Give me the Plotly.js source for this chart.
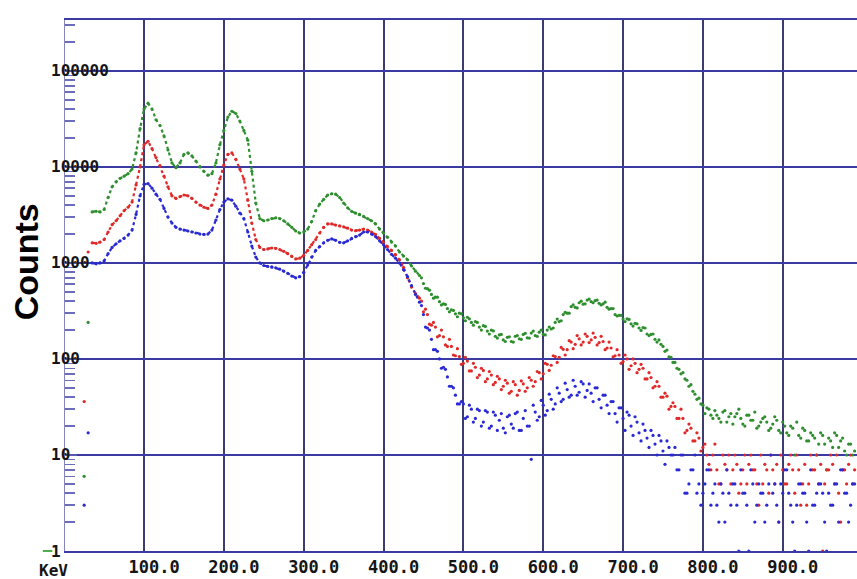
<!DOCTYPE html>
<html>
<head>
<meta charset="utf-8">
<script src="https://cdn.plot.ly/plotly-3.0.1.min.js"></script>
<style>html,body{margin:0;padding:0;background:#fff;}#chart{width:857px;height:579px;}</style>
</head>
<body>
<div id="chart"></div>
<script>
// Energy channels: first channel and step (keV)
const keVStart = 25;
const keVStep = 5;

const greenCounts = [
  6, 240, 3400, 3450, 3400, 3600, 4800, 6200, 7000, 7600,
  8000, 8500, 9500, 14000, 25000, 40000, 46000, 40000, 31000, 27000,
  21000, 15000, 11000, 9800, 11000, 13500, 14000, 13000, 11500, 10000,
  9000, 8200, 8500, 11000, 17000, 24000, 33000, 38000, 36000, 30000,
  24000, 19000, 9000, 4200, 2900, 2750, 2800, 2900, 2950, 2900,
  2750, 2550, 2350, 2150, 2050, 2100, 2250, 2700, 3500, 4100,
  4600, 5100, 5250, 5200, 4800, 4200, 3750, 3450, 3300, 3200,
  3050, 2900, 2750, 2550, 2250, 2050, 1850, 1650, 1500, 1300,
  1180, 1080, 930, 820, 740, 610, 540, 470, 440, 395,
  375, 335, 325, 295, 300, 268, 272, 240, 245, 215,
  222, 195, 200, 172, 178, 158, 168, 152, 172, 162,
  180, 166, 186, 175, 190, 180, 200, 205, 240, 245,
  290, 300, 350, 345, 385, 372, 410, 395, 405, 380,
  375, 345, 335, 290, 285, 260, 262, 232, 235, 210,
  212, 182, 180, 160, 158, 135, 124, 104, 92, 78,
  72, 60, 54, 43, 39, 33, 31, 26, 29, 24,
  28, 22, 27, 25, 30, 21, 26, 23, 28, 20,
  24, 22, 19, 25, 18, 22, 17, 20, 10, 16,
  19, 14, 17, 15, 13, 16, 7, 14, 17, 12,
  15, 10, 13, 11
];

const redCounts = [
  36, 1300, 1620, 1600, 1650, 1750, 2100, 2500, 2750, 3100,
  3500, 3800, 4300, 6500, 10000, 17000, 18500, 15500, 12500, 10300,
  8000, 6200, 5000, 4700, 4900, 5100, 5000, 4700, 4300, 4000,
  3800, 3700, 4000, 5200, 7500, 10500, 13500, 14000, 12000, 9500,
  7500, 4500, 2600, 1750, 1450, 1380, 1400, 1430, 1420, 1380,
  1320, 1250, 1170, 1100, 1120, 1200, 1350, 1550, 1750, 2050,
  2350, 2550, 2550, 2480, 2430, 2380, 2300, 2200, 2170, 2200,
  2250, 2200, 2100, 1980, 1800, 1620, 1480, 1350, 1220, 1080,
  900, 700, 560, 480, 430, 310, 290, 225, 215, 175,
  170, 135, 135, 108, 106, 90, 95, 75, 82, 68,
  76, 62, 68, 57, 62, 52, 56, 46, 54, 47,
  55, 50, 60, 58, 72, 70, 88, 86, 106, 104,
  126, 125, 150, 142, 162, 150, 172, 158, 168, 148,
  152, 130, 130, 108, 110, 94, 100, 85, 90, 78,
  80, 62, 64, 52, 52, 40, 41, 32, 32, 24,
  24, 18, 19, 14, 15, 12, 10, 7, 13, 5,
  10, 7, 5, 10, 4, 7, 5, 10, 7, 3,
  5, 7, 10, 5, 2, 7, 5, 10, 4, 7,
  5, 3, 10, 7, 5, 1, 7, 10, 5, 4,
  7, 5, 10, 7
];

const blueCounts = [
  3, 17, 1000, 980, 1000, 1050, 1250, 1450, 1580, 1700,
  1800, 1950, 2200, 3200, 5000, 6600, 6700, 6000, 5200, 4600,
  3700, 3000, 2600, 2350, 2250, 2200, 2150, 2100, 2050, 2000,
  1980, 2000, 2200, 2800, 3600, 4300, 4650, 4500, 3900, 3300,
  2900, 2100, 1500, 1150, 1000, 940, 920, 910, 890, 860,
  820, 780, 730, 700, 720, 800, 950, 1150, 1350, 1480,
  1620, 1720, 1780, 1720, 1640, 1620, 1700, 1800, 1880, 1950,
  2100, 2100, 2000, 1880, 1700, 1550, 1380, 1230, 1120, 1000,
  850, 720, 580, 470, 390, 290, 210, 160, 125, 100,
  82, 65, 52, 42, 34, 34, 25, 30, 24, 29,
  22, 28, 20, 26, 23, 19, 25, 21, 27, 18,
  24, 20, 9, 28, 25, 33, 29, 38, 34, 44,
  38, 48, 42, 52, 45, 55, 47, 44, 50, 38,
  42, 33, 36, 27, 31, 24, 28, 20, 25, 17,
  21, 15, 18, 13, 16, 11, 14, 10, 12, 7,
  10, 4, 7, 10, 5, 4, 7, 3, 5, 2,
  4, 7, 3, 5, 1, 4, 3, 7, 2, 5,
  4, 3, 10, 5, 2, 4, 7, 3, 1, 5,
  4, 2, 7, 3, 5, 4, 1, 3, 5, 2,
  7, 4, 3, 5
];

// Interleaved channels in the noisy middle region (447.5 ... 797.5 keV)
const midStart = 447.5;
const greenMid = [700, 545, 520, 430, 440, 365, 370, 310, 320, 275,
  295, 250, 262, 225, 240, 200, 218, 182, 196, 165,
  180, 152, 170, 150, 175, 160, 185, 165, 195, 172,
  200, 178, 215, 210, 260, 250, 305, 300, 365, 340,
  400, 375, 420, 385, 410, 365, 390, 330, 335, 280,
  285, 245, 258, 220, 232, 198, 210, 175, 182, 150,
  142, 120, 105, 92, 80, 70, 62, 52, 46, 38, 34];
const redMid = [400, 330, 230, 240, 170, 200, 140, 160, 110, 128,
  88, 104, 75, 90, 64, 80, 58, 74, 54, 66,
  48, 60, 44, 58, 42, 59, 46, 64, 52, 74,
  62, 90, 76, 108, 92, 132, 110, 155, 128, 175,
  140, 182, 148, 186, 140, 172, 125, 150, 105, 125,
  90, 110, 78, 100, 72, 88, 62, 72, 50, 58,
  40, 44, 30, 35, 24, 30, 17, 21, 14, 17, 11];
const blueMid = [360, 215, 200, 125, 120, 80, 78, 52, 50, 34,
  36, 24, 33, 22, 30, 20, 29, 19, 28, 18,
  27, 17, 26, 19, 28, 18, 29, 20, 33, 23,
  37, 26, 43, 30, 50, 36, 56, 40, 60, 42,
  58, 40, 55, 36, 50, 31, 42, 27, 36, 22,
  31, 18, 26, 16, 22, 14, 18, 12, 16, 10,
  14, 8, 12, 10, 7, 10, 4, 5, 7, 4, 3];

// Interleaved high-energy channels (802.5 ... 987.5 keV)
const tailStart = 802.5;
const greenTail = [27, 30, 24, 26, 22, 29, 25, 21, 27, 24, 20, 26, 23, 19, 22, 25, 18, 21, 23, 17,
  20, 16, 19, 22, 15, 18, 14, 16, 10, 17, 13, 15, 12, 16, 14, 11, 13, 10];
const redTail = [13, 8, 10, 7, 5, 8, 10, 7, 8, 5, 10, 8, 7, 5, 10, 8, 4, 7, 8, 10,
  5, 8, 7, 10, 3, 8, 5, 7, 10, 8, 5, 7, 8, 10, 2, 7, 8, 5];
const blueTail = [5, 7, 4, 3, 5, 2, 4, 5, 3, 7, 4, 1, 5, 3, 4, 2, 5, 4, 3, 5,
  7, 4, 2, 3, 5, 4, 1, 3, 4, 5, 2, 4, 3, 5, 7, 4, 2, 5];

const xTickVals = [100, 200, 300, 400, 500, 600, 700, 800, 900];
const xTickText = ["100.0", "200.0", "300.0", "400.0", "500.0", "600.0", "700.0", "800.0", "900.0"];
const yTickVals = [1, 10, 100, 1000, 10000, 100000];
const yTickText = ["1", "10", "100", "1000", "10000", "100000"];

const GREEN = "#2f8f2f", RED = "#e02a2a", BLUE = "#2a2ad2";
const monoFont = {family: "DejaVu Sans Mono", size: 17, color: "#151515", weight: "bold"};
const monoFontSmall = {family: "DejaVu Sans Mono", size: 16, color: "#151515", weight: "bold"};

// smooth low-energy part (35 keV .. 445 keV) drawn as a dense dotted band
const smoothFrom = 2, smoothTo = 85;

function smoothPart(vals, color) {
  return {
    type: "scatter", mode: "lines",
    x0: keVStart + smoothFrom * keVStep, dx: keVStep, y: vals.slice(smoothFrom, smoothTo),
    line: {color: color, width: 2.2, dash: "dot"},
    hoverinfo: "skip", showlegend: false
  };
}
function series(vals, color, x0) {
  return {
    type: "scatter", mode: "markers",
    x0: x0, dx: keVStep, y: vals,
    marker: {color: color, size: 3.2, line: {width: 0}},
    cliponaxis: false, hoverinfo: "skip", showlegend: false
  };
}

const traces = [
  smoothPart(greenCounts, GREEN),
  smoothPart(redCounts, RED),
  smoothPart(blueCounts, BLUE),
  series(greenCounts, GREEN, keVStart),
  series(greenMid, GREEN, midStart),
  series(greenTail, GREEN, tailStart),
  series(redCounts, RED, keVStart),
  series(redMid, RED, midStart),
  series(redTail, RED, tailStart),
  series(blueCounts, BLUE, keVStart),
  series(blueMid, BLUE, midStart),
  series(blueTail, BLUE, tailStart)
];

const annotations = yTickVals.map((v, i) => ({
  xref: "paper", yref: "y", x: -0.02, y: Math.log10(v),
  xanchor: "left", yanchor: "middle", showarrow: false,
  text: yTickText[i], font: monoFontSmall
}));
annotations.push({
  xref: "paper", yref: "paper", x: -0.0139, y: -0.036,
  xanchor: "center", yanchor: "middle", showarrow: false,
  text: "KeV", font: monoFontSmall
});
annotations.push({
  xref: "paper", yref: "paper", x: -0.049, y: 0.544,
  xanchor: "center", yanchor: "middle", showarrow: false, textangle: -90,
  text: "Counts", font: {family: "Liberation Sans", size: 34, color: "#000", weight: "bold"}
});

const layout = {
  width: 857, height: 579,
  margin: {l: 65, r: 0, t: 20, b: 28, pad: 0},
  paper_bgcolor: "#ffffff", plot_bgcolor: "#ffffff",
  showlegend: false,
  xaxis: {
    range: [1, 993], tickvals: xTickVals, ticktext: xTickText,
    showgrid: true, gridcolor: "#3c3c72", gridwidth: 2,
    showline: true, mirror: true, linecolor: "#3a3aa2", linewidth: 2,
    zeroline: false, ticks: "", tickfont: monoFont, ticklabelshift: 10
  },
  yaxis: {
    type: "log", range: [0, 5.53], tickvals: yTickVals, showticklabels: false,
    showgrid: true, gridcolor: "#3a3aa2", gridwidth: 2.5,
    showline: true, linecolor: "#8585c2", linewidth: 1.5,
    ticks: "inside", ticklen: 12, tickcolor: "#5a5ab2", tickwidth: 1.5,
    minor: {dtick: "D1", ticks: "inside", ticklen: 10, tickcolor: "#6c6cba", tickwidth: 1.5, showgrid: false},
    zeroline: false
  },
  shapes: [
    {type: "line", xref: "x", yref: "y", x0: 2, x1: 28, y0: 0, y1: 0, line: {color: GREEN, width: 2}},
    {type: "line", xref: "paper", yref: "paper", x0: -0.028, x1: -0.016, y0: 0, y1: 0, line: {color: "#4caf4c", width: 2}},
    {type: "line", xref: "paper", yref: "y", x0: 0.001, x1: 0.001, y0: 0, y1: 0.27, line: {color: "#f0b4f0", width: 1.5}}
  ],
  annotations: annotations
};

Plotly.newPlot("chart", traces, layout, {displayModeBar: false, staticPlot: true});
</script>
</body>
</html>
